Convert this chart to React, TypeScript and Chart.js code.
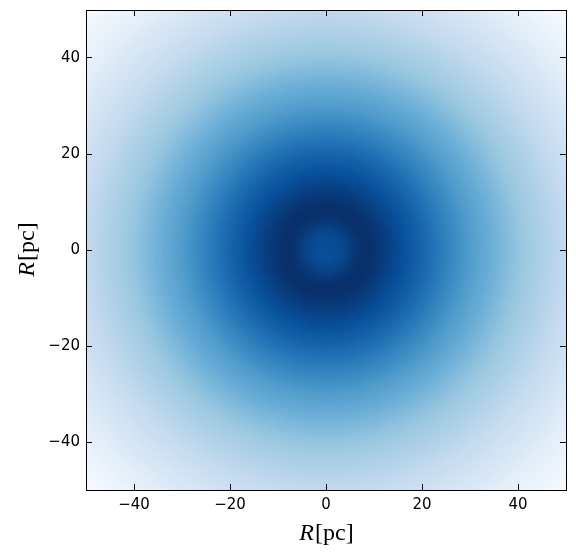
import React, { useEffect, useRef } from 'react';
import { Chart, registerables } from 'chart.js';

Chart.register(...registerables);

// ---- data ----
const xRange = [-50, 50];
const yRange = [-50, 50];
const xTickValues = [-40, -20, 0, 20, 40];
const yTickValues = [-40, -20, 0, 20, 40];
const xTickLabels = ['−40', '−20', '0', '20', '40'];
const yTickLabels = ['−40', '−20', '0', '20', '40'];
const cellsPerSide = 240; // heat-map resolution
// radial profile (radius in pc -> colour level 0..1)
const profileRadius = [0, 2, 4, 6, 7.5, 9, 11, 13, 15, 20, 25, 30, 35, 40, 45, 50, 55, 60, 65, 71];
const profileLevel = [0.885, 0.89, 0.92, 0.97, 1.0, 1.0, 0.975, 0.94, 0.9, 0.8, 0.69, 0.58, 0.49, 0.4, 0.33, 0.26, 0.19, 0.12, 0.06, 0.0];
// matplotlib "Blues" colormap stops
const bluesStops = [
  [247, 251, 255], [222, 235, 247], [198, 219, 239], [158, 202, 225], [107, 174, 214],
  [66, 146, 198], [33, 113, 181], [8, 81, 156], [8, 48, 107],
];
const titleItalic = 'R';
const titleUnit = '[pc]';

const cellStep = (xRange[1] - xRange[0]) / cellsPerSide;

function levelAt(r: number): number {
  if (r <= profileRadius[0]) return profileLevel[0];
  for (let i = 1; i < profileRadius.length; i++) {
    if (r <= profileRadius[i]) {
      const f = (r - profileRadius[i - 1]) / (profileRadius[i] - profileRadius[i - 1]);
      return profileLevel[i - 1] + f * (profileLevel[i] - profileLevel[i - 1]);
    }
  }
  return profileLevel[profileLevel.length - 1];
}

function levelToColor(t: number): string {
  const v = Math.max(0, Math.min(1, t)) * (bluesStops.length - 1);
  const i = Math.min(bluesStops.length - 2, Math.floor(v));
  const f = v - i;
  const a = bluesStops[i], b = bluesStops[i + 1];
  const c = a.map((av, k) => Math.round(av + f * (b[k] - av)));
  return `rgb(${c[0]},${c[1]},${c[2]})`;
}

function buildCells() {
  const pts: { x: number; y: number }[] = [];
  const colors: string[] = [];
  const ny = Math.round((yRange[1] - yRange[0]) / cellStep);
  for (let j = 0; j < ny; j++) {
    const y = yRange[0] + (j + 0.5) * cellStep;
    for (let i = 0; i < cellsPerSide; i++) {
      const x = xRange[0] + (i + 0.5) * cellStep;
      pts.push({ x, y });
      colors.push(levelToColor(levelAt(Math.sqrt(x * x + y * y))));
    }
  }
  return { pts, colors };
}

const axisTitlePlugin = {
  id: 'axisTitles',
  afterDraw(chart: any) {
    const { ctx, chartArea } = chart;
    const size = 24;
    const italic = `italic ${size}px "Liberation Serif", "DejaVu Serif", serif`;
    const upright = `${size}px "Liberation Serif", "DejaVu Serif", serif`;
    ctx.save();
    ctx.fillStyle = '#000';
    ctx.textBaseline = 'alphabetic';
    ctx.textAlign = 'left';
    ctx.font = italic;
    const w1 = ctx.measureText(titleItalic).width;
    ctx.font = upright;
    const w2 = ctx.measureText(titleUnit).width;
    const total = w1 + w2;
    // x title
    const cx = (chartArea.left + chartArea.right) / 2;
    let x0 = cx - total / 2;
    ctx.font = italic;
    ctx.fillText(titleItalic, x0, 540);
    ctx.font = upright;
    ctx.fillText(titleUnit, x0 + w1 + 1, 540);
    // y title
    const cy = (chartArea.top + chartArea.bottom) / 2;
    ctx.translate(34, cy);
    ctx.rotate(-Math.PI / 2);
    x0 = -total / 2;
    ctx.font = italic;
    ctx.fillText(titleItalic, x0, 0);
    ctx.font = upright;
    ctx.fillText(titleUnit, x0 + w1 + 1, 0);
    ctx.restore();
  },
};

function axis(position: string, values: number[], labels: string[], show: boolean, range: number[], fitSize: number) {
  const horizontal = position === 'top' || position === 'bottom';
  return {
    type: 'linear',
    position,
    min: range[0],
    max: range[1],
    afterBuildTicks: (scale: any) => {
      scale.ticks = values.map((v) => ({ value: v }));
    },
    afterFit: (scale: any) => {
      if (horizontal) scale.height = fitSize;
      else scale.width = fitSize;
      scale.paddingTop = 0;
      scale.paddingBottom = 0;
      scale.paddingLeft = 0;
      scale.paddingRight = 0;
    },
    ticks: {
      display: show,
      autoSkip: false,
      maxRotation: 0,
      padding: 12,
      color: '#000',
      font: { family: '"DejaVu Sans", sans-serif', size: 15 },
      callback: (v: number) => {
        const k = values.indexOf(v);
        return k >= 0 ? labels[k] : '';
      },
    },
    grid: {
      display: true,
      drawOnChartArea: false,
      drawTicks: true,
      tickLength: -6,
      tickWidth: 1,
      tickColor: '#000',
      color: '#000',
      z: 1,
    },
    border: { display: true, color: '#000', width: 1, z: 2 },
    title: { display: false },
  };
}

export default function App() {
  const ref = useRef<HTMLCanvasElement | null>(null);
  useEffect(() => {
    document.body.style.margin = '0';
    const { pts, colors } = buildCells();
    const chart = new Chart(ref.current as HTMLCanvasElement, {
      type: 'scatter',
      data: {
        datasets: [
          {
            data: pts,
            backgroundColor: colors,
            borderWidth: 0,
            pointStyle: 'rect',
            pointRadius: (ctx: any) => {
              const s = ctx.chart.scales.x;
              const px = Math.abs(s.getPixelForValue(cellStep) - s.getPixelForValue(0));
              return px * Math.SQRT2 / 2 * 1.0;
            },
            pointHoverRadius: 0,
            clip: 0,
          } as any,
        ],
      },
      options: {
        animation: false,
        responsive: false,
        events: [],
        layout: { padding: 0 },
        plugins: { legend: { display: false }, tooltip: { enabled: false } },
        scales: {
          x: axis('bottom', xTickValues, xTickLabels, true, xRange, 69),
          y: axis('left', yTickValues, yTickLabels, true, yRange, 86),
          x2: axis('top', xTickValues, xTickLabels, false, xRange, 10),
          y2: axis('right', yTickValues, yTickLabels, false, yRange, 10),
        } as any,
      },
      plugins: [axisTitlePlugin],
    } as any);
    return () => chart.destroy();
  }, []);
  return (
    <div style={{ width: 576, height: 559, background: '#fff' }}>
      <canvas ref={ref} width={576} height={559} style={{ display: 'block' }} />
    </div>
  );
}
